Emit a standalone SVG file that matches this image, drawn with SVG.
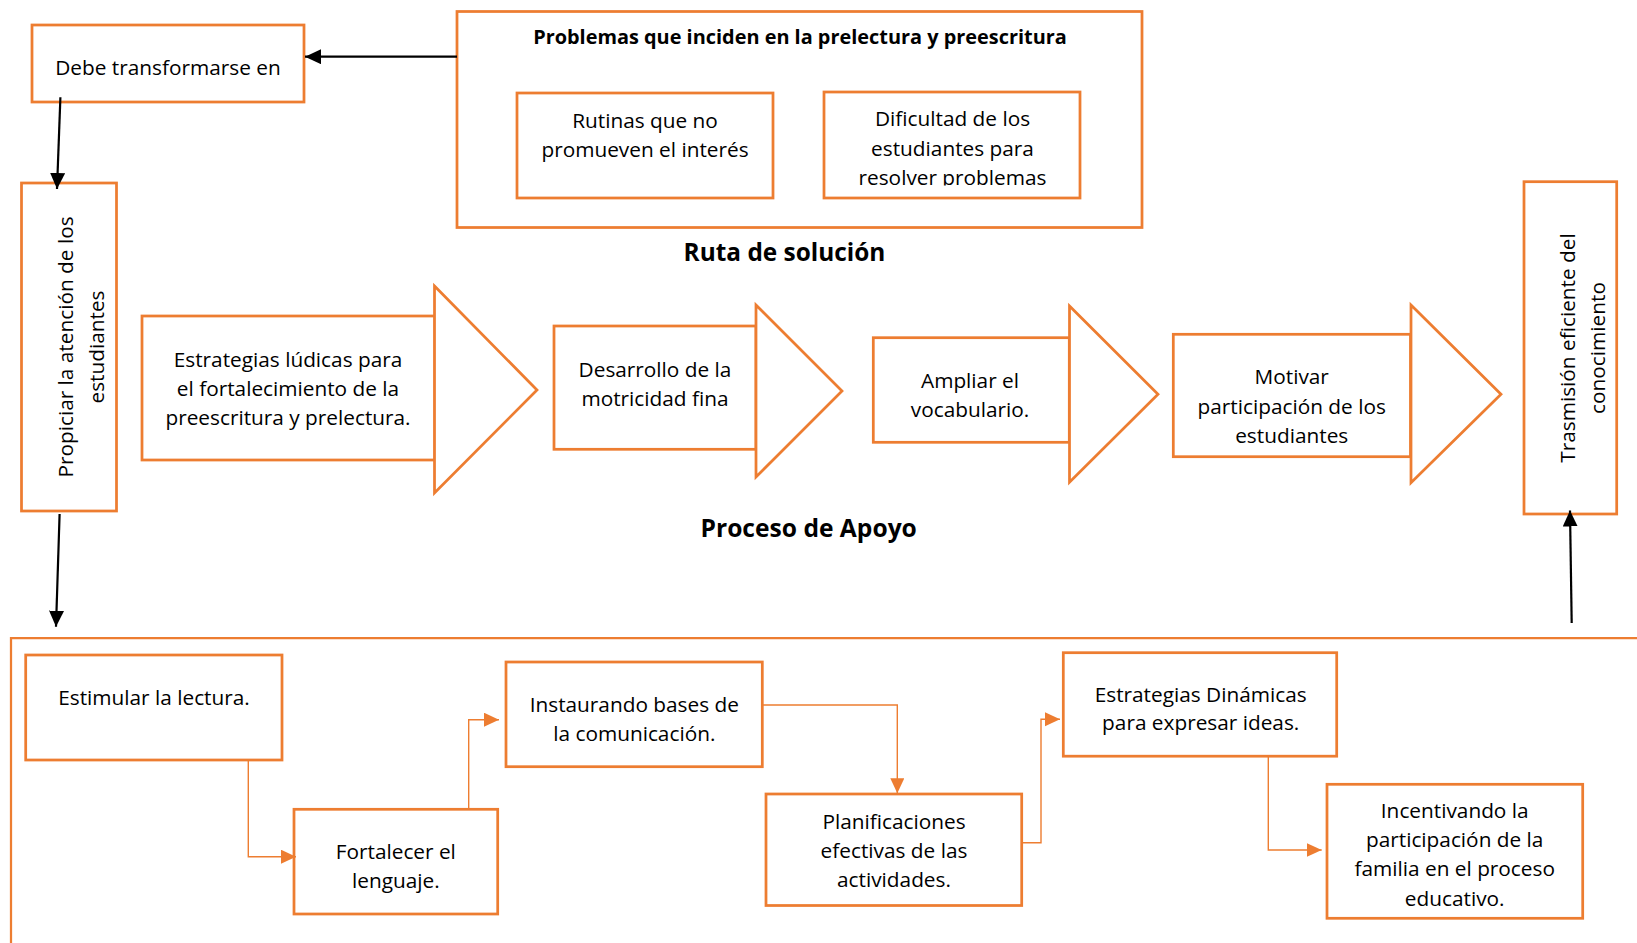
<svg xmlns="http://www.w3.org/2000/svg" width="1637" height="943" viewBox="0 0 1637 943">
<style>
.box{fill:#fff;stroke:#ED7D31;stroke-width:2.75}
.frame{fill:none;stroke:#ED7D31;stroke-width:2.25}
.t{font-family:"Open Sans","Liberation Sans",sans-serif;font-size:20.8px;fill:#000;text-anchor:middle}
.b{font-family:"Open Sans","Liberation Sans",sans-serif;font-weight:bold;fill:#000;text-anchor:middle}
.blk{fill:none;stroke:#000;stroke-width:2.2}
.org{fill:none;stroke:#ED7D31;stroke-width:1.4}
</style>
<defs>
<marker id="ab" markerUnits="userSpaceOnUse" markerWidth="17" markerHeight="16" refX="16" refY="7.5" orient="auto"><path d="M0,0 L16,7.5 L0,15 z" fill="#000"/></marker>
<marker id="ao" markerUnits="userSpaceOnUse" markerWidth="16" markerHeight="15" refX="15" refY="7" orient="auto"><path d="M0,0 L15,7 L0,14 z" fill="#ED7D31"/></marker>
<clipPath id="clipDif"><rect x="824" y="92" width="256" height="93.5"/></clipPath>
</defs>

<g id="contenedor-apoyo"><path class="frame" d="M1640,638 H11 V945"/></g>

<g id="debe"><rect class="box" x="32" y="25" width="272" height="77"/><text class="t" x="168" y="75">Debe transformarse en</text></g>

<g id="problemas">
<rect class="box" x="457" y="11.5" width="685" height="216"/>
<text class="b" x="800" y="44.3" font-size="19.9">Problemas que inciden en la prelectura y preescritura</text>
</g>
<g id="rutinas"><rect class="box" x="517" y="93" width="256" height="105"/><text class="t" x="645" y="127.7">Rutinas que no</text><text class="t" x="645" y="156.7">promueven el interés</text></g>
<g id="dificultad"><rect class="box" x="824" y="92" width="256" height="106"/><g clip-path="url(#clipDif)"><text class="t" x="952.5" y="126">Dificultad de los</text><text class="t" x="952.5" y="156">estudiantes para</text><text class="t" x="952.5" y="184.5">resolver problemas</text></g></g>

<g id="ruta-titulo"><text class="b" x="784.5" y="260.5" font-size="24.4">Ruta de solución</text></g>

<g id="propiciar"><rect class="box" x="21.5" y="183" width="95" height="328"/>
<text class="t" transform="translate(73,347) rotate(-90)">Propiciar la atención de los</text>
<text class="t" transform="translate(103.5,347) rotate(-90)">estudiantes</text></g>

<g id="estrategias-ludicas"><rect class="box" x="142" y="316" width="293" height="144"/><polygon class="box" points="434.5,286 537,390 434.5,493"/>
<text class="t" x="288" y="366.7">Estrategias lúdicas para</text><text class="t" x="288" y="395.7">el fortalecimiento de la</text><text class="t" x="288" y="425">preescritura y prelectura.</text></g>

<g id="motricidad"><rect class="box" x="554" y="326" width="202" height="123.3"/><polygon class="box" points="756,305 842,391 756,477"/>
<text class="t" x="655" y="376.7">Desarrollo de la</text><text class="t" x="655" y="406">motricidad fina</text></g>

<g id="vocabulario"><rect class="box" x="873.3" y="337.7" width="196" height="104.6"/><polygon class="box" points="1069.5,306 1158,394.3 1069.5,482.3"/>
<text class="t" x="970" y="388.3">Ampliar el</text><text class="t" x="970" y="416.7">vocabulario.</text></g>

<g id="motivar"><rect class="box" x="1173.3" y="334.3" width="237.2" height="122.4"/><polygon class="box" points="1411,305 1501,394.3 1411,482.7"/>
<text class="t" x="1291.7" y="384">Motivar</text><text class="t" x="1291.7" y="414">participación de los</text><text class="t" x="1291.7" y="443.3">estudiantes</text></g>

<g id="trasmision"><rect class="box" x="1524" y="181.7" width="92.7" height="332.3"/>
<text class="t" transform="translate(1575,348) rotate(-90)">Trasmisión eficiente del</text>
<text class="t" transform="translate(1605,348) rotate(-90)">conocimiento</text></g>

<g id="proceso-titulo"><text class="b" x="808.7" y="536.7" font-size="24.6">Proceso de Apoyo</text></g>

<g id="estimular"><rect class="box" x="25.7" y="655" width="256.3" height="105"/><text class="t" x="154" y="705">Estimular la lectura.</text></g>
<g id="fortalecer"><rect class="box" x="294" y="809.3" width="203.7" height="104.7"/><text class="t" x="395.8" y="859">Fortalecer el</text><text class="t" x="395.8" y="887.7">lenguaje.</text></g>
<g id="instaurando"><rect class="box" x="506" y="662" width="256.3" height="104.7"/><text class="t" x="634.3" y="711.7">Instaurando bases de</text><text class="t" x="634.3" y="740.7">la comunicación.</text></g>
<g id="planificaciones"><rect class="box" x="766" y="794" width="255.7" height="111.5"/><text class="t" x="894" y="829">Planificaciones</text><text class="t" x="894" y="857.7">efectivas de las</text><text class="t" x="894" y="886.7">actividades.</text></g>
<g id="estrategias-dinamicas"><rect class="box" x="1063.3" y="652.7" width="273.4" height="103.5"/><text class="t" x="1200.7" y="701.7">Estrategias Dinámicas</text><text class="t" x="1200.7" y="730">para expresar ideas.</text></g>
<g id="incentivando"><rect class="box" x="1327" y="784.3" width="255.7" height="134"/><text class="t" x="1454.7" y="818.3">Incentivando la</text><text class="t" x="1454.7" y="847.3">participación de la</text><text class="t" x="1454.7" y="876">familia en el proceso</text><text class="t" x="1454.7" y="905.7">educativo.</text></g>

<g id="conectores">
<line class="blk" x1="457" y1="56.7" x2="305" y2="56.7" marker-end="url(#ab)"/>
<line class="blk" x1="60.4" y1="97.3" x2="57" y2="189" marker-end="url(#ab)"/>
<line class="blk" x1="59.6" y1="514" x2="56" y2="626.7" marker-end="url(#ab)"/>
<line class="blk" x1="1571.7" y1="623" x2="1570" y2="510.5" marker-end="url(#ab)"/>
<polyline class="org" points="248.3,760 248.3,856.7 296,856.7" marker-end="url(#ao)"/>
<polyline class="org" points="468.7,809 468.7,719.7 499,719.7" marker-end="url(#ao)"/>
<polyline class="org" points="762,705 897.3,705 897.3,793.3" marker-end="url(#ao)"/>
<polyline class="org" points="1021.7,842.7 1041,842.7 1041,719.3 1060,719.3" marker-end="url(#ao)"/>
<polyline class="org" points="1268.3,756 1268.3,850 1321.7,850" marker-end="url(#ao)"/>
</g>
</svg>
